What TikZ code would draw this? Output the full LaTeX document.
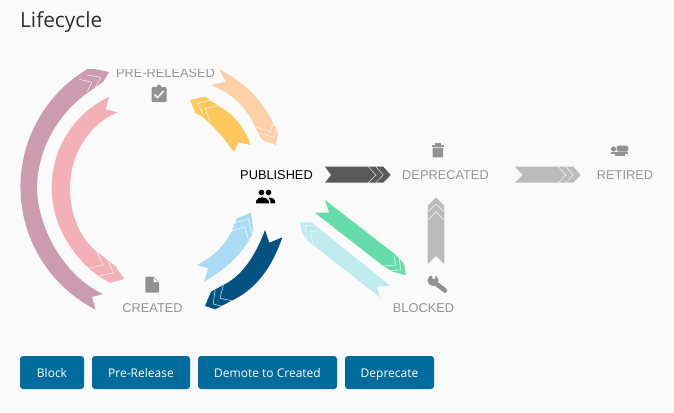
\documentclass[tikz,border=0pt]{standalone}
\usepackage{fontspec}
\setmainfont{Liberation Sans}
\newfontfamily\opensans{Open Sans}
\definecolor{pagebg}{HTML}{FAFAFA}
\definecolor{mauve}{HTML}{CB9BAE}
\definecolor{pinkish}{HTML}{F3B0B7}
\definecolor{peach}{HTML}{FDD0A6}
\definecolor{amber}{HTML}{FEC85E}
\definecolor{skyb}{HTML}{A9DCF3}
\definecolor{navyb}{HTML}{045282}
\definecolor{mint}{HTML}{66DBAB}
\definecolor{pale}{HTML}{BFEAEE}
\definecolor{lgray}{HTML}{BBBBBB}
\definecolor{dgray}{HTML}{595959}
\definecolor{btn}{HTML}{006C9D}
\definecolor{icon}{HTML}{929292}
\tikzset{
  x=1pt,y=-1pt,
  chev/.style={draw=white,draw opacity=.85,line width=.55pt,line join=miter},
  state/.style={font=\fontsize{12.8}{14}\selectfont,text=black!42,inner sep=0pt,anchor=center},
  active/.style={font=\fontsize{12.8}{14}\selectfont,text=black,inner sep=0pt,anchor=center},
  action/.style={draw=none,fill=btn,rounded corners=3pt},
  actionlabel/.style={text=white,inner sep=0pt,anchor=base,font=\opensans\fontsize{12}{14}\selectfont},
  ico/.style={fill=icon,draw=none},
}
\begin{document}
\begin{tikzpicture}
\useasboundingbox (0,0) rectangle (674,412);
\fill[pagebg] (0,0) rectangle (674,412);

\node[inner sep=0pt,anchor=base west,text=black!82,font=\opensans\fontsize{20.8}{24}\selectfont] (title) at (20,27.5) {Lifecycle};

\begin{scope}
\clip (0,69) rectangle (674,412);
\node[state] (prereleased) at (165.5,73) {PRE-RELEASED};

% mauve arc
\fill[mauve] (158,187) ++(117:137.5) arc[start angle=117,end angle=240,radius=137.5]
  -- (109,72) -- (103,82) -- (87.3,93)
  .. controls (50,120) and (37,160) .. (37,187)
  .. controls (37,225) and (62,275) .. (103,294) -- (92,297) -- cycle;
\draw[chev] (79.3,79.3) -- (91.7,82.3) -- (87.3,91.7);
\draw[chev] (87.3,75) -- (100.7,77.3) -- (95,88.3);

% peach ribbon
\fill[peach] (219,69.3) .. controls (242.6,81) and (260.4,98.2) .. (272.3,121) -- (278.3,133.3) -- (275.7,145)
  -- (262.3,140) -- (255.7,128.3) .. controls (247.1,107.7) and (232.1,93) .. (210.7,85) -- (225.7,81.7) -- cycle;
\draw[chev] (255,126.7) -- (270,131.7) -- (274,121.7);
\draw[chev] (260,133.3) -- (274.3,137.7) -- (277.7,126.7);
\end{scope}

% pink arc
\fill[pinkish] (109,96.7) .. controls (72,115) and (51.7,150) .. (51.7,188)
  .. controls (51.7,222) and (70,255) .. (98.3,276) -- (110,282.7) -- (124.3,279) -- (115,265.7) -- (96.7,251.7)
  .. controls (80,238) and (70,215) .. (70,188)
  .. controls (70,155) and (88,125) .. (117.3,112.3) -- (105.7,109.3) -- cycle;
\draw[chev] (96.7,251.7) -- (103.3,265) -- (88.3,268.5);
\draw[chev] (106,253.5) -- (113,273) -- (98.3,276);

% amber ribbon
\fill[amber] (205,96.7) -- (218.3,105.7) .. controls (233.8,114.3) and (244.6,127.4) .. (250.7,145) -- (238.3,142.3) -- (234,152.3)
  .. controls (223.7,137.4) and (212.7,125.2) .. (201,115.7) -- (195.7,113.3) -- (190,100) -- cycle;
\draw[chev] (211.7,100) -- (197.7,103.3) -- (203.3,115);
\draw[chev] (218.3,105.7) -- (205,108.3) -- (210,121.7);

% sky blue ribbon
\fill[skyb] (196.7,265) .. controls (211.6,258.3) and (223.2,247.2) .. (231.7,231.7) -- (236.7,218.3) -- (251,212.7) -- (253.3,230) -- (251.7,235)
  .. controls (243.1,252.7) and (227.2,268.3) .. (204,281.7) -- (208.3,268.3) -- cycle;
\draw[chev] (233.3,223.3) -- (248.3,219) -- (251.7,233.3);
\draw[chev] (230,231.7) -- (245,226.7) -- (248.3,240);

% navy ribbon
\fill[navyb] (265,230) -- (269.3,242.7) -- (282.3,237.3) .. controls (271.7,268.7) and (254.8,289.8) .. (231.7,300.7)
  -- (215,309.3) -- (205,306) -- (211,291.7) -- (223.3,285) .. controls (240.6,276.7) and (254.5,258.3) .. cycle;
\draw[chev] (223.3,285) -- (220,298.3) -- (231.7,300.7);
\draw[chev] (215,290) -- (213.3,304) -- (223.3,306.7);

% mint ribbon
\fill[mint] (325,200) -- (329.3,212.7) -- (315,212.7) -- (383.3,266) -- (392.7,271.7) -- (406,275) -- (404,264) -- (396,255) -- cycle;
\draw[chev] (394,256) -- (396,265) -- (383.3,266);
\draw[chev] (399.3,258.3) -- (400.7,270) -- (388.3,270.7);

% pale ribbon
\fill[pale] (300,222.3) -- (311.7,222.3) -- (390,285.7) -- (376.7,286.7) -- (380,297.3) -- (306,239.3) -- (301.7,231.7) -- cycle;
\draw[chev] (316.7,226) -- (305,225.7) -- (306.7,240);
\draw[chev] (321.7,230.7) -- (310.7,231.7) -- (312.7,243);

% vertical gray
\fill[lgray] (427.7,264) -- (436,256) -- (444.3,264) -- (444.3,206) -- (436,197.3) -- (427.7,206) -- cycle;
\draw[chev] (427.7,211.7) -- (436,204) -- (444.3,211.7);
\draw[chev] (427.7,220) -- (436,211.7) -- (444.3,220);

% dark horizontal
\fill[dgray] (325,166.7) -- (331,175) -- (325,182.7) -- (383.3,182.7) -- (390.7,175) -- (383.3,166.7) -- cycle;
\draw[chev,line width=.5pt] (368.3,166.7) -- (376,175) -- (368.3,182.7);
\draw[chev,line width=.5pt] (375.7,166.7) -- (383.3,175) -- (375.7,182.7);

% light horizontal
\fill[lgray] (515,166.7) -- (522.7,175) -- (515,182.7) -- (573.3,182.7) -- (580.7,175) -- (573.3,166.7) -- cycle;
\draw[chev,line width=.5pt] (558.3,166.7) -- (565.7,175) -- (558.3,182.7);
\draw[chev,line width=.5pt] (565.7,166.7) -- (573.3,175) -- (565.7,182.7);

% state labels
\node[active] (published) at (276.5,175) {PUBLISHED};
\node[state] (deprecated) at (445.5,175) {DEPRECATED};
\node[state] (retired) at (625,175) {RETIRED};
\node[state] (created) at (152.5,308) {CREATED};
\node[state] (blocked) at (423.5,308) {BLOCKED};

% clipboard icon
\fill[ico,rounded corners=1.2pt] (151.5,87) rectangle (166.5,102);
\fill[ico] (159,86.5) circle (2);
\draw[white,line width=1.5pt] (154.5,94.5) -- (157.5,97.5) -- (163.5,91);
% file icon
\fill[ico,rounded corners=.8pt] (145.3,276.7) -- (153.5,276.7) -- (159,282) -- (159,292.7) -- (145.3,292.7) -- cycle;
\fill[white] (153.5,277.7) -- (158,282) -- (153.5,282) -- cycle;
% people icon
\fill[black] (261.5,192.5) circle (2.8) (268.5,192.5) circle (2.8);
\fill[black] (256,203.3) -- (256,201) .. controls (256.5,198) and (260,197.3) .. (262,197.3) .. controls (264.5,197.3) and (268,198) .. (268.8,201) -- (268.8,203.3) -- cycle;
\fill[black] (270.3,203.3) -- (270.3,200.5) .. controls (270,199) and (269.5,198.3) .. (268.5,197.6) .. controls (271,197.2) and (274.5,198.3) .. (275,201) -- (275,203.3) -- cycle;
% trash icon
\fill[ico] (431.5,144.5) rectangle (444,146.5);
\fill[ico] (435,143) rectangle (440.5,145);
\fill[ico,rounded corners=1pt] (432.5,147.5) rectangle (443,157.3);
% bed icon
\fill[ico] (613.5,149) circle (2.6);
\fill[ico,rounded corners=1.5pt] (616.7,145.7) rectangle (628.3,151.7);
\fill[ico] (611,152.3) rectangle (628.3,154);
\fill[ico] (615,154) rectangle (625,156);
% wrench icon
\draw[icon,line width=4.6pt,line cap=round] (434,282) -- (445,290.5);
\fill[ico] (433,280.5) circle (5.5);
\fill[pagebg] (431.5,274) -- (432.8,279) -- (435.5,278.5) -- (435.2,274) -- cycle;

% buttons
\path[action] (20,356) rectangle (84,389);
\path[action] (92,356) rectangle (190,389);
\path[action] (198,356) rectangle (337,389);
\path[action] (345,356) rectangle (434,389);
\node[actionlabel] (block) at (52,377) {Block};
\node[actionlabel] (prerelease) at (141,377) {Pre-Release};
\node[actionlabel] (demote) at (267.5,377) {Demote to Created};
\node[actionlabel] (deprecate) at (389.5,377) {Deprecate};
\end{tikzpicture}
\end{document}
